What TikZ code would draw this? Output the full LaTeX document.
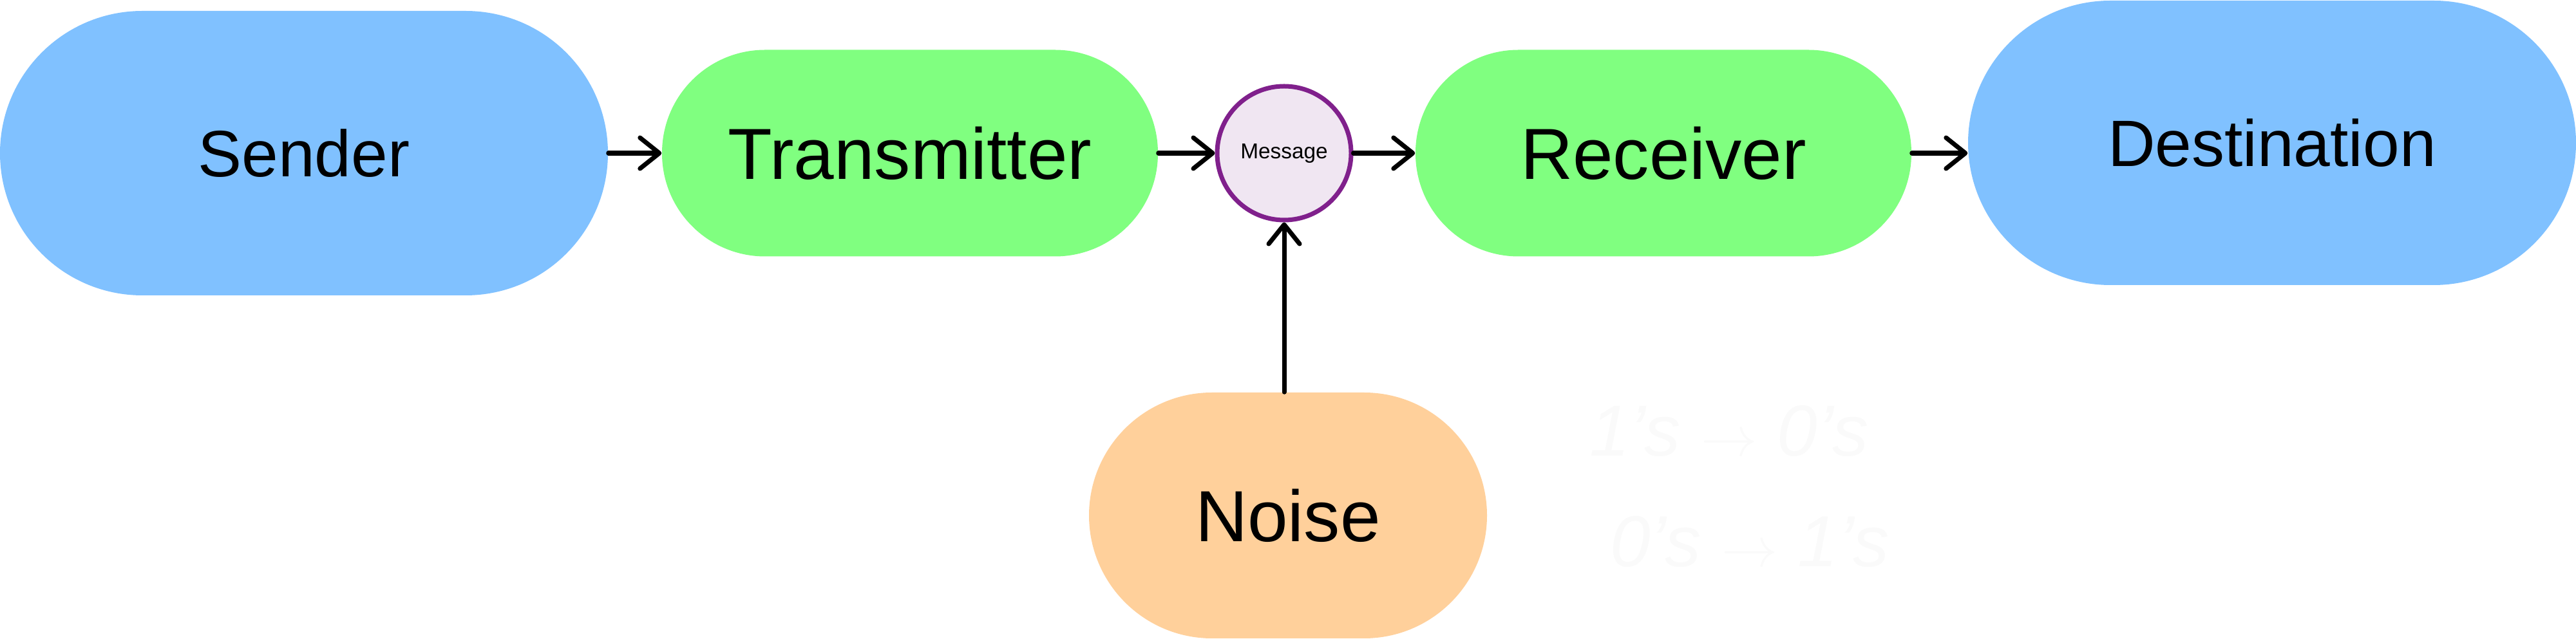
\documentclass[tikz,border=0pt]{standalone}
\usepackage{fontspec}
\setmainfont{Liberation Sans}
\usetikzlibrary{arrows.meta}

\definecolor{endblue}{RGB}{128,193,255}
\definecolor{linkgreen}{RGB}{128,255,128}
\definecolor{noiseorange}{RGB}{255,208,155}
\definecolor{msgpurple}{RGB}{128,32,140}
\definecolor{msgfill}{RGB}{240,230,242}
\definecolor{scribble}{RGB}{250,250,250}

\tikzset{
    endbox/.style={rectangle, fill=endblue, inner sep=0pt, minimum width=9.44cm,
        minimum height=4.42cm, rounded corners=2.21cm, font=\fontsize{29}{34}\selectfont},
    linkbox/.style={rectangle, fill=linkgreen, inner sep=0pt, minimum width=7.7cm,
        minimum height=3.21cm, rounded corners=1.6cm, font=\fontsize{32}{38}\selectfont},
    arr/.style={-{Straight Barb[length=3mm, width=4.8mm, round]}, line width=2pt, line cap=round},
}

\begin{document}
\begin{tikzpicture}
    \useasboundingbox (0,0) rectangle (40,9.93);

    %% Main channel

    % Source side
    \node[endbox] (sender) at (4.72,7.55) {Sender};
    \node[linkbox] (trans) at (14.13,7.55) {Transmitter};

    % Signal
    \node[circle, draw=msgpurple, fill=msgfill, line width=0.07cm, inner sep=0pt,
        minimum size=2.08cm, font=\fontsize{9.5}{11}\selectfont] (msg) at (19.94,7.55) {Message};

    % Sink side
    \node[linkbox] (rec) at (25.83,7.55) {Receiver};
    \node[endbox] (dest) at (35.28,7.71) {Destination};

    %% Disturbance
    \node[rectangle, fill=noiseorange, inner sep=0pt, minimum width=6.18cm, minimum height=3.82cm,
        rounded corners=1.91cm, font=\fontsize{32}{38}\selectfont] (noise) at (20.0,1.92) {Noise};

    % faint notes
    \node[text=scribble, font=\fontsize{32}{38}\selectfont\itshape] (flipa) at (26.85,3.23) {1's $\rightarrow$ 0's};
    \node[text=scribble, font=\fontsize{32}{38}\selectfont\itshape] (flipb) at (27.17,1.51) {0's $\rightarrow$ 1's};

    %% Arrows
    \draw[arr] (sender.east) -- (sender.east -| trans.west);
    \draw[arr] (trans.east) -- (trans.east -| msg.west);
    \draw[arr] (msg.east) -- (msg.east -| rec.west);
    \draw[arr] (rec.east) -- (rec.east -| dest.west);
    \draw[arr] (noise.north -| msg.south) -- (msg.south);

\end{tikzpicture}
\end{document}
